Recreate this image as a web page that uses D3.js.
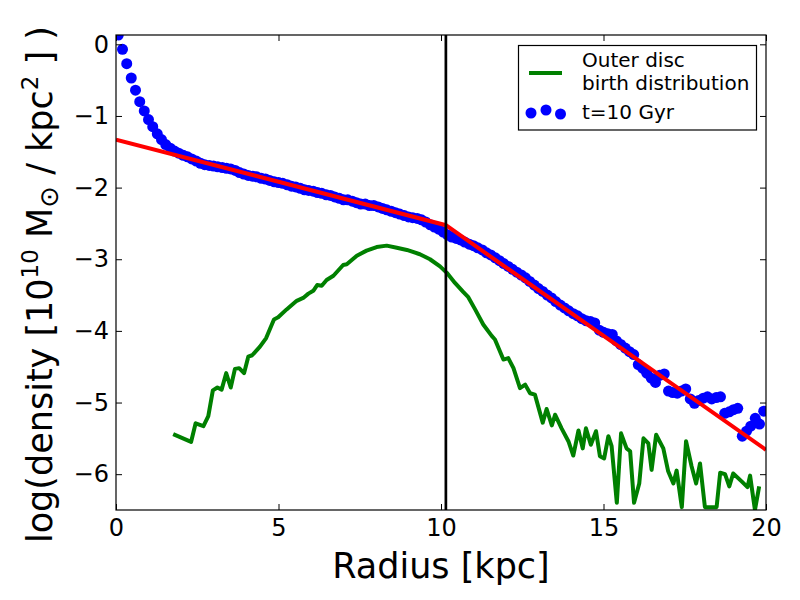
<!DOCTYPE html>
<html><head><meta charset="utf-8">
<script src="https://cdn.jsdelivr.net/npm/d3@7"></script>
<style>body{margin:0;background:#fff;} text{font-family:"DejaVu Sans",sans-serif;}</style>
</head><body>
<svg id="chart" width="800" height="600"></svg>
<script>
// Blue points: surface density at t=10 Gyr
const radius = [0.07,0.20,0.33,0.47,0.60,0.73,0.87,1.00,1.13,1.27,1.40,1.53,1.67,1.80,1.93,2.07,2.20,2.33,2.47,2.60,2.73,2.87,3.00,3.13,3.27,3.40,3.53,3.67,3.80,3.93,4.07,4.20,4.33,4.47,4.60,4.73,4.87,5.00,5.13,5.27,5.40,5.53,5.67,5.80,5.93,6.07,6.20,6.33,6.47,6.60,6.73,6.87,7.00,7.13,7.27,7.40,7.53,7.67,7.80,7.93,8.07,8.20,8.33,8.47,8.60,8.73,8.87,9.00,9.13,9.27,9.40,9.53,9.67,9.80,9.93,10.07,10.20,10.33,10.47,10.60,10.73,10.87,11.00,11.13,11.27,11.40,11.53,11.67,11.80,11.93,12.07,12.20,12.33,12.47,12.60,12.73,12.87,13.00,13.13,13.27,13.40,13.53,13.67,13.80,13.93,14.07,14.20,14.33,14.47,14.60,14.73,14.87,15.00,15.13,15.27,15.40,15.53,15.67,15.80,15.93,16.07,16.20,16.33,16.47,16.60,16.73,16.87,17.00,17.13,17.27,17.40,17.53,17.67,17.80,17.93,18.07,18.20,18.33,18.47,18.60,18.73,18.87,19.00,19.13,19.27,19.40,19.53,19.67,19.80,19.93];
const density = [0.13,-0.07,-0.27,-0.47,-0.64,-0.80,-0.93,-1.05,-1.15,-1.25,-1.33,-1.40,-1.45,-1.49,-1.52,-1.55,-1.57,-1.60,-1.63,-1.66,-1.68,-1.69,-1.70,-1.71,-1.72,-1.73,-1.74,-1.76,-1.79,-1.81,-1.83,-1.84,-1.85,-1.87,-1.88,-1.90,-1.92,-1.93,-1.94,-1.96,-1.98,-1.99,-2.01,-2.03,-2.04,-2.05,-2.07,-2.08,-2.10,-2.11,-2.13,-2.15,-2.17,-2.17,-2.19,-2.21,-2.23,-2.23,-2.25,-2.25,-2.27,-2.29,-2.31,-2.33,-2.35,-2.37,-2.39,-2.41,-2.42,-2.43,-2.45,-2.48,-2.52,-2.55,-2.58,-2.62,-2.66,-2.69,-2.71,-2.73,-2.76,-2.79,-2.81,-2.84,-2.87,-2.91,-2.94,-2.98,-3.02,-3.06,-3.10,-3.14,-3.18,-3.22,-3.26,-3.31,-3.36,-3.41,-3.45,-3.50,-3.54,-3.59,-3.64,-3.68,-3.72,-3.76,-3.79,-3.83,-3.86,-3.87,-3.89,-3.99,-4.02,-4.04,-4.05,-4.14,-4.19,-4.24,-4.29,-4.33,-4.47,-4.52,-4.59,-4.66,-4.72,-4.62,-4.60,-4.84,-4.86,-4.87,-4.84,-4.81,-4.95,-5.01,-4.97,-4.94,-4.92,-4.95,-4.93,-4.92,-5.15,-5.13,-5.10,-5.08,-5.47,-5.40,-5.33,-5.22,-5.30,-5.12];

// Green line: outer disc birth distribution
const birthRadius = [1.76,2.31,2.45,2.69,2.84,2.98,3.12,3.25,3.39,3.53,3.66,3.79,3.94,4.07,4.19,4.43,4.62,4.86,4.99,5.25,5.56,5.76,5.92,6.07,6.19,6.33,6.48,6.69,6.99,7.10,7.41,7.71,8.02,8.33,8.64,8.95,9.35,9.66,9.97,10.18,10.43,10.69,10.84,11.05,11.30,11.56,11.66,11.92,12.07,12.23,12.43,12.59,12.74,12.89,13.13,13.25,13.41,13.51,13.71,13.92,14.07,14.23,14.36,14.46,14.61,14.77,14.89,15.02,15.15,15.25,15.41,15.54,15.71,15.82,15.94,16.10,16.23,16.38,16.48,16.62,16.84,16.99,17.15,17.25,17.41,17.54,17.71,17.85,17.97,18.12,18.48,18.59,18.74,18.87,18.99,19.25,19.43,19.51,19.66,19.79];
const birthDensity = [-5.44,-5.55,-5.29,-5.33,-5.19,-4.83,-4.79,-4.82,-4.59,-4.79,-4.53,-4.52,-4.59,-4.36,-4.34,-4.22,-4.10,-3.84,-3.81,-3.70,-3.58,-3.54,-3.48,-3.44,-3.36,-3.37,-3.29,-3.23,-3.08,-3.07,-2.95,-2.88,-2.83,-2.81,-2.84,-2.87,-2.93,-3.00,-3.10,-3.19,-3.33,-3.46,-3.53,-3.70,-3.91,-4.07,-4.12,-4.40,-4.38,-4.52,-4.80,-4.75,-4.87,-4.89,-5.28,-5.09,-5.32,-5.17,-5.36,-5.54,-5.74,-5.39,-5.64,-5.36,-5.59,-5.40,-5.75,-5.78,-5.47,-5.61,-6.40,-5.43,-5.64,-5.68,-6.40,-6.13,-5.50,-5.57,-5.94,-5.45,-5.64,-5.96,-6.13,-5.95,-6.46,-5.54,-5.89,-6.13,-5.85,-6.46,-6.46,-5.98,-6.00,-6.17,-5.99,-6.10,-6.18,-6.02,-6.50,-6.17];

// Red line: broken exponential fit
const fitRadius = [0, 10.15, 20];
const fitDensity = [-1.33, -2.525, -5.66];
const breakRadius = 10.15;

const xTicks = [0, 5, 10, 15, 20];
const yTicks = [0, -1, -2, -3, -4, -5, -6];
const legendLabels = [["Outer disc", "birth distribution"], ["t=10 Gyr"]];

const svg = d3.select("#chart");
const L = 116, R = 766, T = 35, B = 510;
const x = d3.scaleLinear().domain([0, 20]).range([L, R]);
const y = d3.scaleLinear().domain([-6.5, 0.13]).range([B, T]);

svg.append("defs").append("clipPath").attr("id", "clip")
  .append("rect").attr("x", L).attr("y", T).attr("width", R - L).attr("height", B - T);
const plot = svg.append("g").attr("clip-path", "url(#clip)");

const line = d3.line().x(d => x(d[0])).y(d => y(d[1]));
plot.append("path").datum(birthRadius.map((r, i) => [r, birthDensity[i]]))
  .attr("d", line).attr("fill", "none").attr("stroke", "#008000").attr("stroke-width", 4)
  .attr("stroke-linejoin", "round");

plot.selectAll("circle.pt").data(radius.map((r, i) => [r, density[i]])).enter()
  .append("circle").attr("class", "pt").attr("cx", d => x(d[0])).attr("cy", d => y(d[1]))
  .attr("r", 5.5).attr("fill", "#0000ff");

plot.append("path").datum(fitRadius.map((r, i) => [r, fitDensity[i]]))
  .attr("d", line).attr("fill", "none").attr("stroke", "#ff0000").attr("stroke-width", 4);

plot.append("line").attr("x1", x(breakRadius)).attr("x2", x(breakRadius))
  .attr("y1", T).attr("y2", B).attr("stroke", "#000").attr("stroke-width", 2.7);

// axes frame
svg.append("rect").attr("x", L).attr("y", T).attr("width", R - L).attr("height", B - T)
  .attr("fill", "none").attr("stroke", "#000").attr("stroke-width", 1.2);

const tl = 6;
const fmt = v => (v < 0 ? "\u2212" + Math.abs(v) : String(v));
const bx = d3.axisBottom(x).tickValues(xTicks).tickSize(-tl).tickPadding(9).tickFormat(fmt);
const tx = d3.axisTop(x).tickValues(xTicks).tickSize(-tl).tickFormat("");
const ly = d3.axisLeft(y).tickValues(yTicks).tickSize(-tl).tickPadding(7).tickFormat(fmt);
const ry = d3.axisRight(y).tickValues(yTicks).tickSize(-tl).tickFormat("");
function style(g) {
  g.select(".domain").remove();
  g.selectAll("line").attr("stroke", "#000").attr("stroke-width", 1);
  g.selectAll("text").attr("font-family", "DejaVu Sans").attr("font-size", 24).attr("fill", "#000");
}
svg.append("g").attr("transform", `translate(0,${B})`).call(bx).call(style);
svg.append("g").attr("transform", `translate(0,${T})`).call(tx).call(style);
svg.append("g").attr("transform", `translate(${L},0)`).call(ly).call(style);
svg.append("g").attr("transform", `translate(${R},0)`).call(ry).call(style);

// axis labels
svg.append("text").attr("x", (L + R) / 2).attr("y", 578).attr("text-anchor", "middle")
  .attr("font-size", 35).attr("fill", "#000").text("Radius [kpc]");

const yl = svg.append("text").attr("transform", `translate(52,${(T + B) / 2 + 12}) rotate(-90)`)
  .attr("text-anchor", "middle").attr("font-size", 35).attr("fill", "#000");
yl.append("tspan").text("log(density [10");
yl.append("tspan").attr("dy", -14).attr("font-size", 23).text("10");
yl.append("tspan").attr("dy", 14).text(" M");
yl.append("tspan").attr("dy", 6).attr("font-size", 26).text("\u2299");
yl.append("tspan").attr("dy", -6).text(" / kpc");
yl.append("tspan").attr("dy", -14).attr("font-size", 23).text("2");
yl.append("tspan").attr("dy", 14).text(" ] )");

// legend
const lg = svg.append("g");
lg.append("rect").attr("x", 518.5).attr("y", 45.5).attr("width", 238).attr("height", 84.5)
  .attr("fill", "#fff").attr("stroke", "#000").attr("stroke-width", 1.2);
lg.append("line").attr("x1", 529).attr("x2", 562).attr("y1", 73).attr("y2", 73)
  .attr("stroke", "#008000").attr("stroke-width", 4);
lg.append("text").attr("x", 582).attr("y", 67).attr("font-size", 20).attr("fill", "#000").text(legendLabels[0][0]);
lg.append("text").attr("x", 582).attr("y", 90).attr("font-size", 20).attr("fill", "#000").text(legendLabels[0][1]);
[[531, 113], [546, 110], [560.5, 114]].forEach(p => {
  lg.append("circle").attr("cx", p[0]).attr("cy", p[1]).attr("r", 5.5).attr("fill", "#0000ff");
});
lg.append("text").attr("x", 582).attr("y", 119).attr("font-size", 20).attr("fill", "#000").text(legendLabels[1][0]);
</script>
</body></html>
